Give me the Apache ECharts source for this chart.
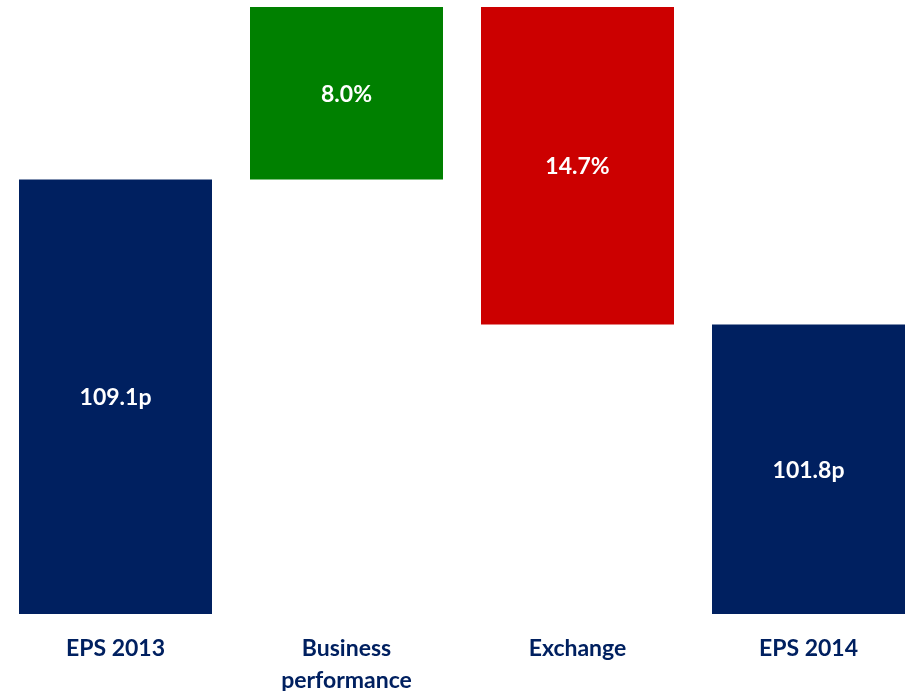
<!DOCTYPE html>
<html>
<head>
<meta charset="utf-8">
<script src="https://cdn.jsdelivr.net/npm/echarts@6/dist/echarts.min.js"></script>
<style>
  html, body { margin: 0; padding: 0; background: #fff; }
  #chart { width: 906px; height: 691px; }
</style>
</head>
<body>
<div id="chart"></div>
<script>
  var categories = ['EPS 2013', 'Business\nperformance', 'Exchange', 'EPS 2014'];
  var barLabels = ['109.1p', '8.0%', '14.7%', '101.8p'];
  var baseValues = [0, 71.6, 47.7, 0];
  var barValues = [71.6, 28.4, 52.3, 47.7];
  var barColors = ['#002060', '#008000', '#CC0000', '#002060'];

  var myChart = echarts.init(document.getElementById('chart'));
  var option = {
    animation: false,
    grid: { left: 0, top: 7, width: 924, bottom: 77, outerBoundsMode: 'none', containLabel: false },
    xAxis: {
      type: 'category',
      data: categories,
      axisLine: { show: false },
      axisTick: { show: false },
      axisLabel: {
        interval: 0,
        margin: 19,
        color: '#002060',
        fontFamily: 'Lato',
        fontWeight: 'bold',
        fontSize: 23,
        lineHeight: 32
      }
    },
    yAxis: {
      type: 'value',
      min: 0,
      max: 100,
      show: false,
      splitLine: { show: false }
    },
    series: [
      {
        type: 'bar',
        stack: 'wf',
        barWidth: 193,
        itemStyle: { color: 'transparent' },
        silent: true,
        data: baseValues
      },
      {
        type: 'bar',
        stack: 'wf',
        barWidth: 193,
        data: barValues.map(function (v, i) {
          return { value: v, itemStyle: { color: barColors[i] } };
        }),
        label: {
          show: true,
          position: 'inside',
          offset: [0, 1],
          color: '#fff',
          fontFamily: 'Lato',
          fontWeight: 'bold',
          fontSize: 23,
          formatter: function (p) { return barLabels[p.dataIndex]; }
        }
      }
    ]
  };
  myChart.setOption(option);
</script>
</body>
</html>
